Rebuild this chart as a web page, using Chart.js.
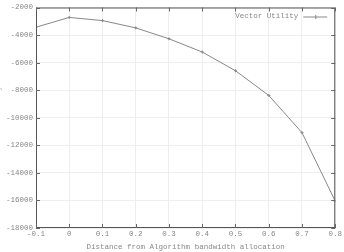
<!DOCTYPE html>
<html>
<head>
<meta charset="utf-8">
<script src="https://cdn.jsdelivr.net/npm/chart.js@4/dist/chart.umd.min.js"></script>
<style>
  html, body { margin: 0; padding: 0; background: #fff; overflow: hidden; }
  #wrap { position: relative; width: 352px; height: 252px; margin-left: -8px; }
</style>
</head>
<body>
<div id="wrap"><canvas id="myChart"></canvas></div>
<script>
const distances = [-0.1, 0, 0.1, 0.2, 0.3, 0.4, 0.5, 0.6, 0.7, 0.8];
const utility = [-3430, -2720, -2950, -3480, -4270, -5230, -6590, -8380, -11080, -16050];
const seriesLabel = "Vector Utility";
const xTitle = "Distance from Algorithm bandwidth allocation";
const yTitle = "Vector Utility";

const FONT = "'Liberation Mono', 'DejaVu Sans Mono', monospace";
const TEXT = "#888";

const frameAndLegend = {
  id: "frameAndLegend",
  afterDraw(chart) {
    const { ctx, chartArea: a } = chart;
    ctx.save();
    ctx.strokeStyle = "#555";
    ctx.lineWidth = 1;
    ctx.strokeRect(a.left + 0.5, a.top + 0.5, a.right - a.left - 1, a.bottom - a.top - 1);

    // inner tick marks, mirrored on all four sides
    const xs = chart.scales.x, ys = chart.scales.y;
    ctx.strokeStyle = "#666";
    ctx.beginPath();
    xs.ticks.forEach((t) => {
      const px = Math.round(xs.getPixelForValue(t.value)) + 0.5;
      ctx.moveTo(px, a.bottom); ctx.lineTo(px, a.bottom - 4);
      ctx.moveTo(px, a.top); ctx.lineTo(px, a.top + 4);
    });
    ys.ticks.forEach((t) => {
      const py = Math.round(ys.getPixelForValue(t.value)) + 0.5;
      ctx.moveTo(a.left, py); ctx.lineTo(a.left + 4, py);
      ctx.moveTo(a.right, py); ctx.lineTo(a.right - 4, py);
    });
    ctx.stroke();

    // legend inside the top right corner
    ctx.font = "7.5px " + FONT;
    ctx.fillStyle = TEXT;
    ctx.textBaseline = "middle";
    ctx.textAlign = "right";
    const ly = a.top + 9;
    const lx2 = a.right - 8, lx1 = lx2 - 24;
    ctx.fillText(seriesLabel, lx1 - 5, ly);
    ctx.strokeStyle = "#888";
    ctx.beginPath();
    ctx.moveTo(lx1, ly + 0.5); ctx.lineTo(lx2, ly + 0.5);
    const cx = (lx1 + lx2) / 2;
    ctx.moveTo(cx + 0.5, ly - 1.5); ctx.lineTo(cx + 0.5, ly + 2.5);
    ctx.stroke();
    ctx.restore();
  },
};

const ctx = document.getElementById("myChart").getContext("2d");
new Chart(ctx, {
  type: "line",
  data: {
    datasets: [
      {
        label: seriesLabel,
        data: distances.map((d, i) => ({ x: d, y: utility[i] })),
        borderColor: "#888",
        backgroundColor: "#888",
        borderWidth: 1,
        pointStyle: "cross",
        pointRadius: 1.5,
        pointBorderWidth: 1,
        tension: 0,
      },
    ],
  },
  options: {
    responsive: true,
    maintainAspectRatio: false,
    animation: false,
    layout: { padding: { top: 5, right: 5, left: 0, bottom: 0 } },
    plugins: {
      legend: { display: false },
      tooltip: { enabled: false },
    },
    scales: {
      x: {
        type: "linear",
        min: -0.1,
        max: 0.8,
        afterFit: (s) => { s.height = 24; },
        ticks: {
          stepSize: 0.1,
          color: TEXT,
          font: { family: FONT, size: 7.5 },
          padding: 2,
          maxRotation: 0,
          callback: (v) => String(Math.round(v * 10) / 10),
        },
        grid: { color: "#eee", drawTicks: false },
        border: { display: false },
        title: {
          display: true,
          text: xTitle,
          color: TEXT,
          font: { family: FONT, size: 7.5 },
          padding: { top: 2, bottom: 0 },
        },
      },
      y: {
        min: -18000,
        max: -2000,
        afterFit: (s) => { s.width = 44; },
        ticks: {
          stepSize: 2000,
          color: TEXT,
          font: { family: FONT, size: 7.5 },
          padding: 3,
          callback: (v) => String(v),
        },
        grid: { color: "#eee", drawTicks: false },
        border: { display: false },
        title: {
          display: true,
          text: yTitle,
          color: "#aaa",
          font: { family: FONT, size: 7.5 },
          padding: { top: 2, bottom: 0 },
        },
      },
    },
  },
  plugins: [frameAndLegend],
});
</script>
</body>
</html>
